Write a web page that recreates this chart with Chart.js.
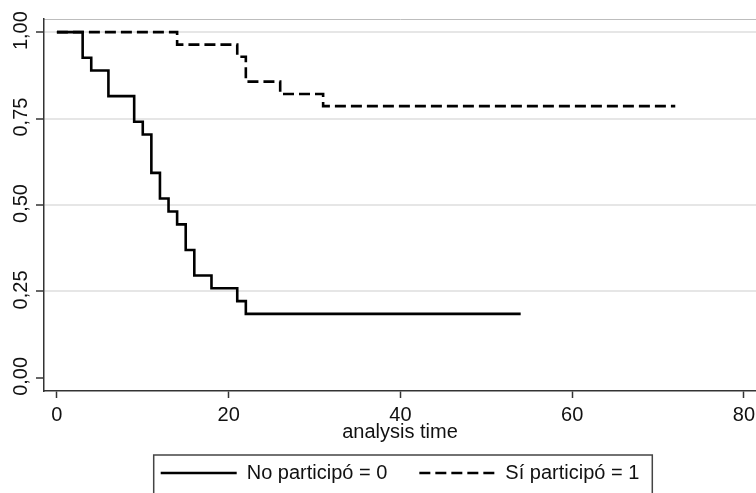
<!DOCTYPE html>
<html><head><meta charset="utf-8">
<script src="https://cdn.jsdelivr.net/npm/chart.js@4.4.1/dist/chart.umd.min.js"></script>
<style>html,body{margin:0;padding:0;background:#fff}#wrap{width:756px;height:493px}</style>
</head><body><div id="wrap"><canvas id="c" width="756" height="493"></canvas></div>
<script>
const seriesNames = ['No participó = 0', 'Sí participó = 1'];
const timesNo = [0, 3, 4, 6, 9, 10, 11, 12, 13, 14, 15, 16, 18, 21, 22, 54];
const survNo  = [1, 0.926, 0.889, 0.815, 0.741, 0.704, 0.593, 0.519, 0.481, 0.444, 0.370, 0.296, 0.259, 0.222, 0.185, 0.185];
const timesSi = [0, 14, 21, 22, 26, 31, 72];
const survSi  = [1, 0.964, 0.929, 0.857, 0.821, 0.786, 0.786];
const xTicks = [0, 20, 40, 60, 80];
const yTicks = [0, 0.25, 0.5, 0.75, 1];
const yTickLabels = ['0,00', '0,25', '0,50', '0,75', '1,00'];
const xTitle = 'analysis time';

const FONT = '"Liberation Sans", Arial, sans-serif';
const toPts = (xs, ys) => xs.map((x, i) => ({x: x, y: ys[i]}));

const yLabelPlugin = {
  id: 'yLabels',
  afterDraw(chart) {
    const ctx = chart.ctx, s = chart.scales.y;
    ctx.save();
    ctx.font = '20px ' + FONT;
    ctx.fillStyle = '#111';
    ctx.textAlign = 'center';
    ctx.textBaseline = 'alphabetic';
    yTicks.forEach((v, i) => {
      const py = s.getPixelForValue(v) - 1.5;
      ctx.save();
      ctx.translate(27, py);
      ctx.rotate(-Math.PI / 2);
      ctx.fillText(yTickLabels[i], 0, 0);
      ctx.restore();
    });
    ctx.restore();
  }
};

const legendBoxPlugin = {
  id: 'legendBox',
  afterDraw(chart) {
    const lg = chart.legend;
    if (!lg || !lg.legendHitBoxes || !lg.legendHitBoxes.length) return;
    const hb = lg.legendHitBoxes;
    const first = hb[0], last = hb[hb.length - 1];
    const left = first.left - 7;
    const right = last.left + last.width + 13;
    const top = first.top + 10 - 18;
    const ctx = chart.ctx;
    ctx.save();
    ctx.strokeStyle = '#444';
    ctx.lineWidth = 1.5;
    ctx.beginPath();
    ctx.moveTo(left, 510);
    ctx.lineTo(left, top);
    ctx.lineTo(right, top);
    ctx.lineTo(right, 510);
    ctx.stroke();
    ctx.restore();
  }
};

new Chart(document.getElementById('c'), {
  type: 'line',
  data: {
    datasets: [
      {label: seriesNames[0], data: toPts(timesNo, survNo), borderColor: '#000', backgroundColor: '#000',
       borderWidth: 2.6, pointRadius: 0, stepped: 'before', fill: false},
      {label: seriesNames[1], data: toPts(timesSi, survSi), borderColor: '#000', backgroundColor: '#000',
       borderWidth: 2.6, borderDash: [11, 5], pointRadius: 0, stepped: 'before', fill: false}
    ]
  },
  options: {
    responsive: false,
    animation: false,
    devicePixelRatio: 1,
    layout: {padding: {top: 19, left: 0, right: 0, bottom: 0}},
    scales: {
      x: {
        type: 'linear', position: 'bottom', min: -1.5, max: 81.4,
        afterBuildTicks: s => { s.ticks = xTicks.map(v => ({value: v})); },
        afterFit: s => { s.height = 40; s.paddingLeft = 0; s.paddingRight = 0; },
        ticks: {color: '#111', font: {family: FONT, size: 20}, padding: 5, maxRotation: 0,
                callback: v => String(v)},
        grid: {drawOnChartArea: false, drawTicks: true, tickLength: 7, tickColor: '#333', tickWidth: 1.5},
        border: {display: true, color: '#333', width: 1.5},
        title: {display: true, text: xTitle, color: '#111', font: {family: FONT, size: 20},
                padding: {top: 0, bottom: -13}}
      },
      xTop: {
        type: 'linear', position: 'top', min: -1.5, max: 81.4,
        ticks: {display: false},
        grid: {display: false, drawTicks: false},
        border: {display: true, color: '#bdbdbd', width: 1},
        afterFit: s => { s.height = 0; s.paddingLeft = 0; s.paddingRight = 0; }
      },
      y: {
        type: 'linear', position: 'left', min: -0.038, max: 1.038,
        afterBuildTicks: s => { s.ticks = yTicks.map(v => ({value: v})); },
        afterFit: s => { s.width = 44; s.paddingTop = 0; s.paddingBottom = 0; },
        ticks: {display: false},
        grid: {
          color: c => (c.tick && c.tick.value === 0) ? 'rgba(0,0,0,0)' : '#e6e6e6',
          lineWidth: 2, tickLength: 8, tickColor: '#333', tickWidth: 1.5
        },
        border: {display: true, color: '#333', width: 1.5}
      }
    },
    plugins: {
      legend: {
        display: true, position: 'bottom', fullSize: false, align: 'center',
        labels: {
          usePointStyle: true, pointStyle: 'line', pointStyleWidth: 76, boxHeight: 20,
          padding: 32, color: '#111', font: {family: FONT, size: 20},
          generateLabels: chart => Chart.defaults.plugins.legend.labels.generateLabels(chart).map(item => {
            const ds = chart.data.datasets[item.datasetIndex];
            item.lineDash = ds.borderDash || [];
            item.lineWidth = ds.borderWidth;
            item.strokeStyle = ds.borderColor;
            item.pointStyle = 'line';
            return item;
          })
        }
      },
      tooltip: {enabled: false}
    }
  },
  plugins: [yLabelPlugin, legendBoxPlugin]
});
</script></body></html>
